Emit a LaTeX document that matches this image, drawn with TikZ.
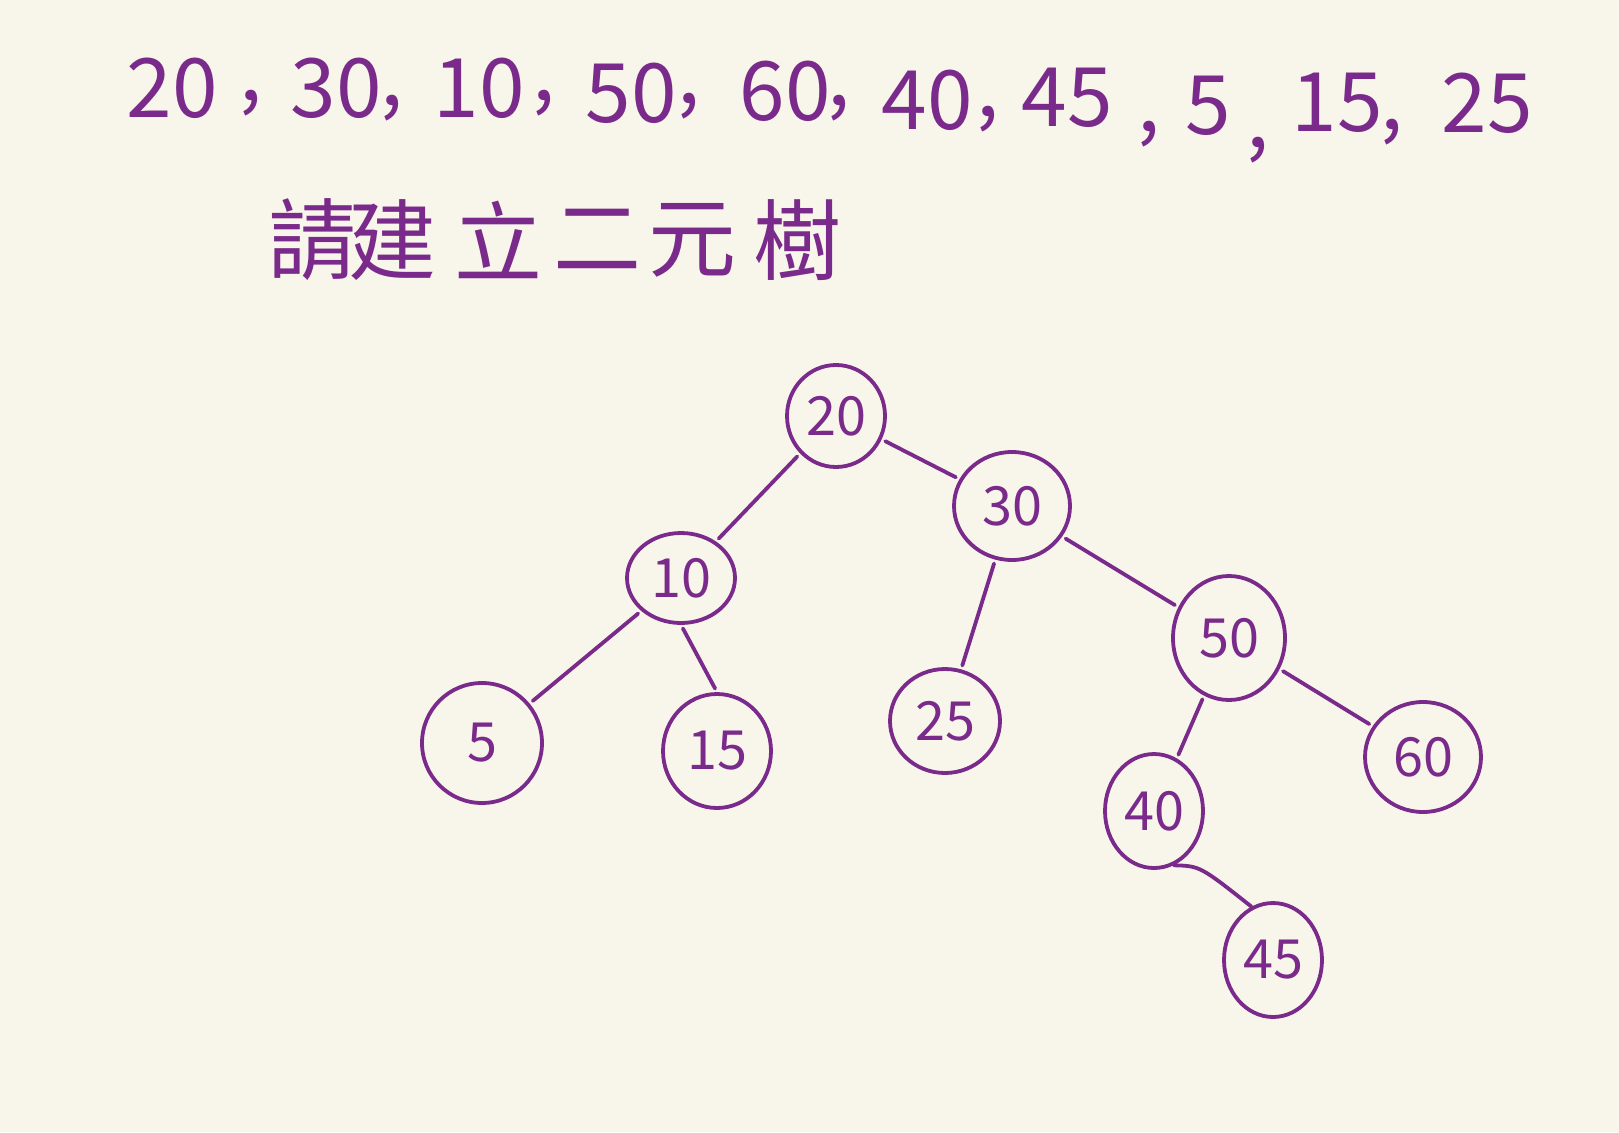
\documentclass[tikz,border=0pt]{standalone}
\usepackage{fontspec}
\newfontfamily\cjk{Noto Sans CJK TC}
\usetikzlibrary{shapes.geometric}
\definecolor{ink}{HTML}{7A2A8A}
\definecolor{paper}{HTML}{F8F5EB}
\tikzset{
  seqtxt/.style={text=ink, font=\cjk\fontsize{82}{90}\selectfont, inner sep=0pt},
  cjktxt/.style={text=ink, font=\cjk\fontsize{88}{96}\selectfont, inner sep=0pt},
  tnode/.style={draw=ink, line width=3.8pt, ellipse, inner sep=0pt, text=ink,
    font=\cjk\fontsize{54}{60}\selectfont},
  tedge/.style={draw=ink, line width=3.8pt, line cap=round, shorten <=4pt, shorten >=4pt}
}
\begin{document}
\begin{tikzpicture}[x=1pt,y=-1pt]
\path[fill=paper,use as bounding box] (0,0) rectangle (1619,1132);
% sequence
\node[seqtxt] (s1) at (172,88) {20};
\node[seqtxt] (c1) at (251,103) {,};
\node[seqtxt] (s2) at (336,88) {30};
\node[seqtxt] (c2) at (392,108) {,};
\node[seqtxt] (s3) at (479,88) {10};
\node[seqtxt] (c3) at (544,103) {,};
\node[seqtxt] (s4) at (631,93) {50};
\node[seqtxt] (c4) at (689,106) {,};
\node[seqtxt] (s5) at (785,91) {60};
\node[seqtxt] (c5) at (839,108) {,};
\node[seqtxt] (s6) at (927,100) {40};
\node[seqtxt] (c6) at (988,119) {,};
\node[seqtxt] (s7) at (1067,98) {45};
\node[seqtxt] (c7) at (1149,134) {,};
\node[seqtxt] (s8) at (1208,106) {5};
\node[seqtxt] (c8) at (1258,150) {,};
\node[seqtxt] (s9) at (1337,103) {15};
\node[seqtxt] (c9) at (1392,132) {,};
\node[seqtxt] (s10) at (1487,103) {25};
% title
\node[cjktxt] (k1) at (312,240) {請};
\node[cjktxt] (k2) at (392,240) {建};
\node[cjktxt] (k3) at (498,240) {立};
\node[cjktxt] (k4) at (597,240) {二};
\node[cjktxt] (k5) at (692,240) {元};
\node[cjktxt] (k6) at (797,240) {樹};
% tree
\node[tnode, minimum width=98pt, minimum height=102pt] (n20) at (836,416) {20};
\node[tnode, minimum width=116pt, minimum height=108pt] (n30) at (1012,506) {30};
\node[tnode, minimum width=108pt, minimum height=90pt] (n10) at (681,578) {10};
\node[tnode, minimum width=112pt, minimum height=124pt] (n50) at (1229,638) {50};
\node[tnode, minimum width=120pt, minimum height=120pt] (n5) at (482,743) {5};
\node[tnode, minimum width=108pt, minimum height=114pt] (n15) at (717,751) {15};
\node[tnode, minimum width=110pt, minimum height=104pt] (n25) at (945,721) {25};
\node[tnode, minimum width=98pt, minimum height=114pt] (n40) at (1154,811) {40};
\node[tnode, minimum width=116pt, minimum height=110pt] (n60) at (1423,757) {60};
\node[tnode, minimum width=98pt, minimum height=114pt] (n45) at (1273,960) {45};
\draw[tedge] (n20) -- (n10);
\draw[tedge] (n20) -- (n30);
\draw[tedge] (n10) -- (n5);
\draw[tedge] (n10.south) -- (n15.north);
\draw[tedge] (n30) -- (n25);
\draw[tedge] (n30) -- (n50);
\draw[tedge] (n50) -- (n40);
\draw[tedge] (n50) -- (n60);
\draw[tedge, shorten <=0pt, shorten >=0pt] (n40.-70) .. controls (1200,866) .. (n45.112);
\end{tikzpicture}
\end{document}
